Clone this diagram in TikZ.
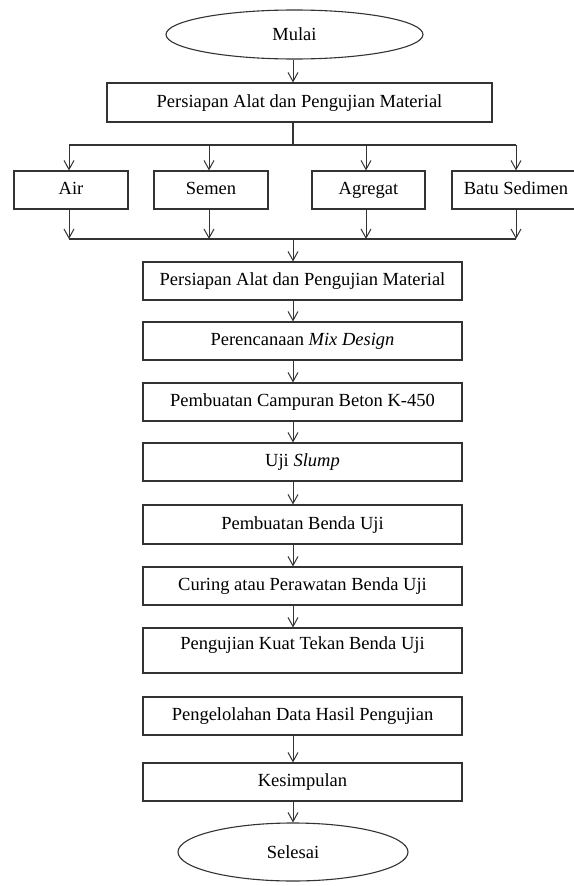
\documentclass[tikz,border=0pt]{standalone}
\usepackage{fontspec}
\setmainfont{Liberation Serif}
\usetikzlibrary{shapes.geometric,arrows.meta}
\begin{document}
\begin{tikzpicture}[x=1pt,y=-1pt,
  font=\fontsize{18.5}{22}\selectfont,
  line/.style={draw=black!80, line width=1.1pt},
  box/.style={line, rectangle, inner sep=0pt, text height=13pt, text depth=4pt, align=center},
  oval/.style={line, ellipse, inner sep=0pt},
  arr/.style={draw=black!80, line width=1pt, -{Straight Barb[length=9pt,width=10pt,line width=1pt]}}]
\useasboundingbox (0,0) rectangle (573,886);
\coordinate (ax) at (293,0);
\coordinate (x1) at (69,0);
\coordinate (x2) at (209,0);
\coordinate (x3) at (366,0);
\coordinate (x4) at (516,0);
\coordinate (tl) at (69,145);
\coordinate (tr) at (516,145);
\coordinate (bl) at (69,239);
\coordinate (br) at (516,239);

\node[oval, minimum width=257pt, minimum height=49pt] (mulai) at (294.5,34.5) {Mulai};
\node[box, minimum width=385pt, minimum height=39pt] (b1) at (299.5,102.5) {Persiapan Alat dan Pengujian Material};

\node[box, minimum width=114pt, minimum height=38pt] (air) at (71,190) {Air};
\node[box, minimum width=114pt, minimum height=38pt] (semen) at (211,190) {Semen};
\node[box, minimum width=113pt, minimum height=38pt] (agregat) at (368.5,190) {Agregat};
\node[box, minimum width=128pt, minimum height=38pt] (batu) at (516,190) {Batu Sedimen};

\node[box, minimum width=319pt, minimum height=38pt] (b2) at (302.5,281) {Persiapan Alat dan Pengujian Material};
\node[box, minimum width=319pt, minimum height=38pt] (b3) at (302.5,341) {Perencanaan \textit{Mix Design}};
\node[box, minimum width=319pt, minimum height=38pt] (b4) at (302.5,402) {Pembuatan Campuran Beton K-450};
\node[box, minimum width=319pt, minimum height=38pt] (b5) at (302.5,462) {Uji \textit{Slump}};
\node[box, minimum width=319pt, minimum height=39pt] (b6) at (302.5,524.5) {Pembuatan Benda Uji};
\node[box, minimum width=319pt, minimum height=38pt] (b7) at (302.5,586) {Curing atau Perawatan Benda Uji};
\node[box, minimum width=319pt, text height=21pt, text depth=24pt] (b8) at (302.5,650.5) {Pengujian Kuat Tekan Benda Uji};
\node[box, minimum width=319pt, minimum height=38pt] (b9) at (302.5,716) {Pengelolahan Data Hasil Pengujian};
\node[box, minimum width=319pt, minimum height=38pt] (b10) at (302.5,782) {Kesimpulan};
\node[oval, minimum width=230pt, minimum height=58pt] (selesai) at (293,852) {Selesai};

\draw[arr] (mulai.south -| ax) -- (b1.north -| ax);
\draw[line] (b1.south -| ax) -- (tl -| ax);
\draw[line] (tl) -- (tr);
\draw[arr] (tl) -- (air.north -| x1);
\draw[arr] (tl -| x2) -- (semen.north -| x2);
\draw[arr] (tl -| x3) -- (agregat.north -| x3);
\draw[arr] (tr) -- (batu.north -| x4);
\draw[arr] (air.south -| x1) -- (bl);
\draw[arr] (semen.south -| x2) -- (bl -| x2);
\draw[arr] (agregat.south -| x3) -- (bl -| x3);
\draw[arr] (batu.south -| x4) -- (br);
\draw[line] (bl) -- (br);
\draw[arr] (bl -| ax) -- (b2.north -| ax);
\draw[arr] (b2.south -| ax) -- (b3.north -| ax);
\draw[arr] (b3.south -| ax) -- (b4.north -| ax);
\draw[arr] (b4.south -| ax) -- (b5.north -| ax);
\draw[arr] (b5.south -| ax) -- (b6.north -| ax);
\draw[arr] (b6.south -| ax) -- (b7.north -| ax);
\draw[arr] (b7.south -| ax) -- (b8.north -| ax);
\draw[arr] (b9.south -| ax) -- (b10.north -| ax);
\draw[arr] (b10.south -| ax) -- (selesai.north -| ax);
\end{tikzpicture}
\end{document}
